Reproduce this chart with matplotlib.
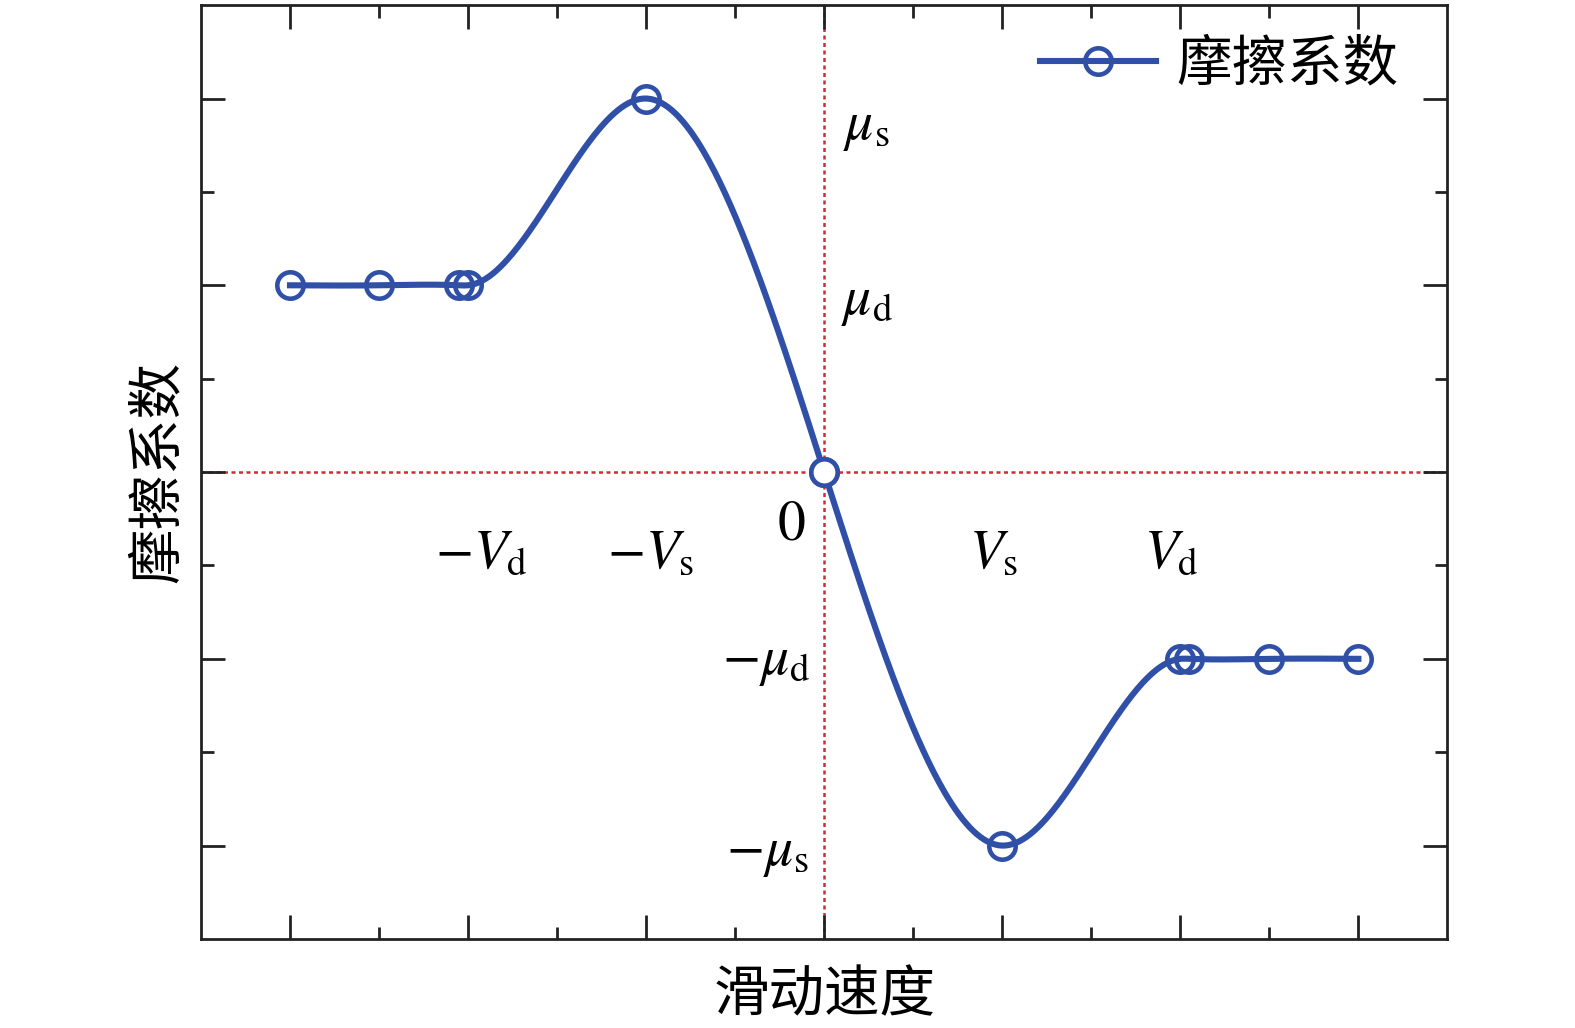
import numpy as np
import matplotlib.pyplot as plt

plt.rcParams['font.family'] = ['Liberation Serif', 'Noto Sans CJK SC', 'DejaVu Sans']
plt.rcParams['mathtext.fontset'] = 'stix'

# sliding speed / friction coefficient (schematic units)
speed = [-6, -5, -4.1, -4, -2, 0, 2, 4, 4.1, 5, 6]
friction = [2, 2, 2, 2, 4, 0, -4, -2, -2, -2, -2]

x_major = [-6, -4, -2, 0, 2, 4, 6]
x_minor = [-5, -3, -1, 1, 3, 5]
y_major = [-4, -2, 0, 2, 4]
y_minor = [-3, -1, 1, 3]

# annotation labels: (x, y, text)
speed_labels = [(-3.85, -0.87, r'$-V_\mathrm{d}$'), (-1.95, -0.87, r'$-V_\mathrm{s}$'),
                (1.9, -0.87, r'$V_\mathrm{s}$'), (3.9, -0.87, r'$V_\mathrm{d}$'),
                (-0.37, -0.57, r'$0$')]
mu_labels = [(0.47, 3.7, r'$\mu_\mathrm{s}$'), (0.48, 1.82, r'$\mu_\mathrm{d}$'),
             (-0.65, -2.03, r'$-\mu_\mathrm{d}$'), (-0.64, -4.08, r'$-\mu_\mathrm{s}$')]

BLUE = '#3050A8'
RED = '#D42A35'


def natural_spline(x, y, n=600):
    # natural cubic spline used only to draw the smooth connecting line
    x = np.asarray(x, float)
    y = np.asarray(y, float)
    k = len(x)
    h = np.diff(x)
    A = np.zeros((k, k))
    b = np.zeros(k)
    A[0, 0] = A[-1, -1] = 1
    for i in range(1, k - 1):
        A[i, i - 1] = h[i - 1]
        A[i, i] = 2 * (h[i - 1] + h[i])
        A[i, i + 1] = h[i]
        b[i] = 6 * ((y[i + 1] - y[i]) / h[i] - (y[i] - y[i - 1]) / h[i - 1])
    M = np.linalg.solve(A, b)
    xs = np.linspace(x[0], x[-1], n)
    idx = np.clip(np.searchsorted(x, xs) - 1, 0, k - 2)
    x0, x1 = x[idx], x[idx + 1]
    hh = x1 - x0
    ys = (M[idx] * (x1 - xs) ** 3 / (6 * hh) + M[idx + 1] * (xs - x0) ** 3 / (6 * hh)
          + (y[idx] / hh - M[idx] * hh / 6) * (x1 - xs)
          + (y[idx + 1] / hh - M[idx + 1] * hh / 6) * (xs - x0))
    return xs, ys


fig = plt.figure(figsize=(15.75, 10.28), dpi=100)
ax = fig.add_axes([0.1276, 0.0866, 0.7914, 0.9084])

ax.axhline(0, color=RED, lw=1.8, ls=(0, (1.6, 1.4)), zorder=1)
ax.axvline(0, color=RED, lw=1.8, ls=(0, (1.6, 1.4)), zorder=1)

xs, ys = natural_spline(speed, friction)
ax.plot(xs, ys, color=BLUE, lw=4.4, zorder=3)
ax.plot(speed, friction, ls='none', marker='o', ms=19, mew=3.3, mec=BLUE, mfc='none', zorder=4)
zero_pts = [(sx, fy) for sx, fy in zip(speed, friction) if fy == 0]
ax.plot([p[0] for p in zero_pts], [p[1] for p in zero_pts], ls='none', marker='o', ms=19,
        mew=3.3, mec=BLUE, mfc='white', zorder=5)

ax.plot([], [], color=BLUE, lw=4.4, marker='o', ms=19, mew=3.3, mec=BLUE, mfc='none',
        label='摩擦系数')
ax.legend(loc='upper right', frameon=False, prop={'family': ['Noto Sans CJK SC'], 'size': 40},
          handlelength=2.1, handletextpad=0.35, borderaxespad=0.2, bbox_to_anchor=(0.987, 1.003))

for x, y, t in speed_labels:
    ax.text(x, y, t, fontsize=40, ha='center', va='center')
for x, y, t in mu_labels:
    ax.text(x, y, t, fontsize=40, ha='center', va='center')

ax.set_xlim(-7, 7)
ax.set_ylim(-5, 5)
ax.set_xticks(x_major)
ax.set_xticks(x_minor, minor=True)
ax.set_yticks(y_major)
ax.set_yticks(y_minor, minor=True)
ax.tick_params(which='both', direction='in', top=True, right=True,
               labelbottom=False, labelleft=False, width=2, color='#222222')
ax.tick_params(which='major', length=17)
ax.tick_params(which='minor', length=9)
for s in ax.spines.values():
    s.set_linewidth(2)
    s.set_color('#222222')

ax.set_xlabel('滑动速度', fontsize=40, family=['Noto Sans CJK SC'], labelpad=20)
ax.set_ylabel('摩擦系数', fontsize=40, family=['Noto Sans CJK SC'], labelpad=10)

fig.savefig('out.png', dpi=100)
